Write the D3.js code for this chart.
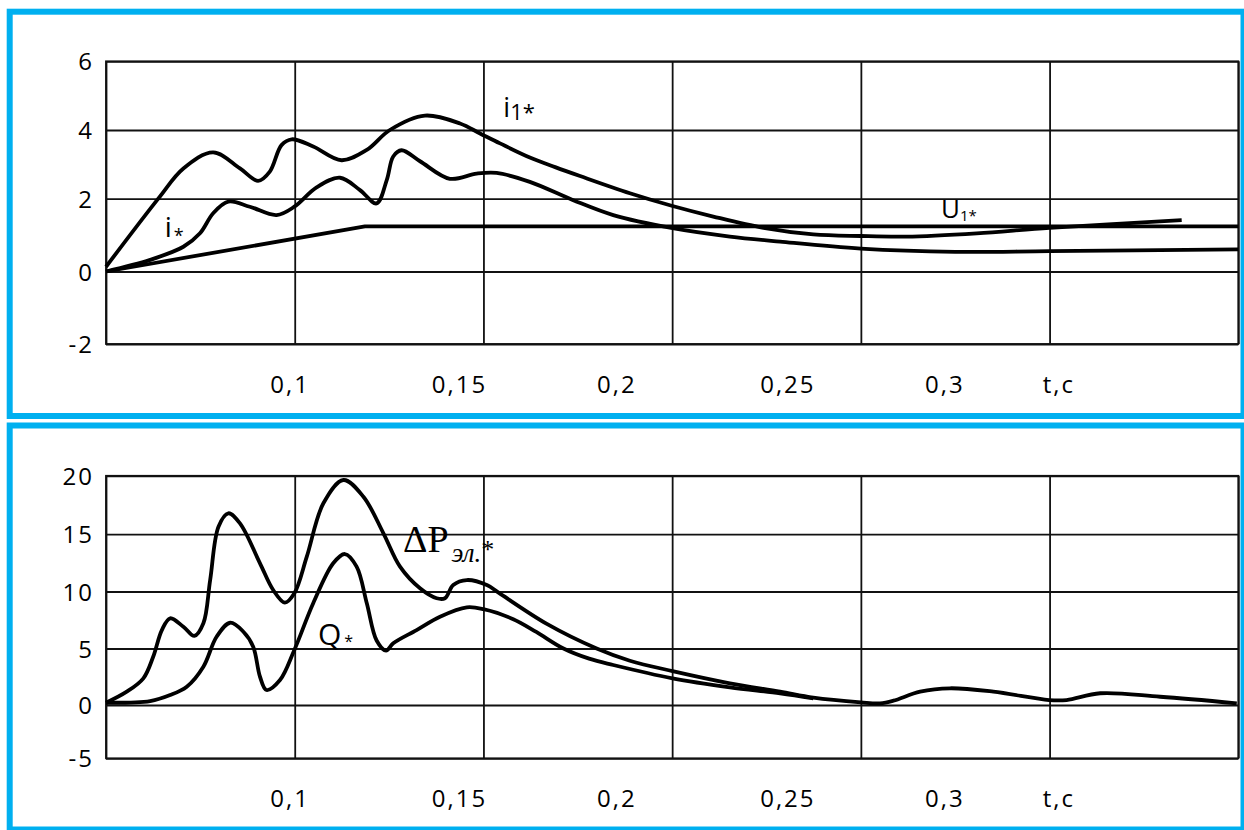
<!DOCTYPE html>
<html>
<head>
<meta charset="utf-8">
<script src="https://cdn.jsdelivr.net/npm/d3@7"></script>
<style>
  html, body { margin: 0; padding: 0; background: #fff; }
  svg { display: block; }
</style>
</head>
<body>
<svg id="chart" width="1244" height="830"></svg>
<script>
// ---- time axis (seconds) ----
const tDomain = [0.05, 0.35];
const tGrid = [0.05, 0.1, 0.15, 0.2, 0.25, 0.3, 0.35];
const tLabels = ["0,1", "0,15", "0,2", "0,25", "0,3", "t,c"];
const tLabelAt = [0.0985, 0.1434, 0.1851, 0.2304, 0.2720, 0.3022];

// ---- upper panel: currents and voltage (p.u.) ----
const currentTicks = [-2, 0, 2, 4, 6];

const i1Star = [
  [0.0500, 0.13], [0.0639, 2.01], [0.0705, 2.88], [0.0784, 3.35], [0.0855, 2.88],
  [0.0903, 2.52], [0.0934, 2.79], [0.0965, 3.56], [0.0992, 3.73], [0.1049, 3.52],
  [0.1124, 3.12], [0.1191, 3.42], [0.1252, 4.00], [0.1345, 4.42], [0.1438, 4.19],
  [0.1491, 3.90], [0.1544, 3.61], [0.1623, 3.20], [0.1690, 2.92], [0.1756, 2.66],
  [0.1888, 2.16], [0.2001, 1.80], [0.2109, 1.51], [0.2242, 1.20], [0.2374, 1.02],
  [0.2500, 0.975], [0.2620, 0.96], [0.2807, 1.05], [0.3000, 1.20], [0.3350, 1.41]
];

const iStar = [
  [0.0500, 0.00], [0.0617, 0.32], [0.0705, 0.68], [0.0749, 1.05], [0.0784, 1.60],
  [0.0824, 1.92], [0.0881, 1.78], [0.0952, 1.55], [0.0999, 1.78], [0.1058, 2.33],
  [0.1120, 2.61], [0.1173, 2.25], [0.1217, 1.87], [0.1244, 2.55], [0.1261, 3.23],
  [0.1283, 3.41], [0.1332, 3.09], [0.1411, 2.58], [0.1482, 2.73], [0.1535, 2.75],
  [0.1623, 2.49], [0.1738, 1.96], [0.1844, 1.55], [0.2001, 1.19], [0.2153, 0.96],
  [0.2286, 0.82], [0.2500, 0.63], [0.2750, 0.54], [0.3000, 0.56], [0.3500, 0.61]
];

const u1Star = [[0.0500, 0.00], [0.1186, 1.24], [0.3500, 1.24]];

// ---- lower panel: losses and reactive power (p.u.) ----
const powerTicks = [-5, 0, 5, 10, 15, 20];

const dPel = [
  [0.0500, 0.20], [0.0555, 1.18], [0.0599, 2.36], [0.0625, 4.27], [0.0648, 6.62],
  [0.0670, 7.65], [0.0705, 6.91], [0.0734, 6.10], [0.0758, 7.21], [0.0776, 11.0],
  [0.0798, 15.64], [0.0824, 16.79], [0.0855, 15.93], [0.0908, 12.46], [0.0943, 10.13],
  [0.0974, 9.02], [0.0999, 9.84], [0.1032, 13.04], [0.1076, 17.65], [0.1129, 19.64],
  [0.1182, 18.21], [0.1235, 15.08], [0.1279, 12.17], [0.1332, 10.28], [0.1376, 9.41],
  [0.1398, 9.41], [0.1420, 10.57], [0.1456, 11.0], [0.1509, 10.57], [0.1540, 9.90],
  [0.1668, 7.16], [0.1800, 5.00], [0.1888, 3.92], [0.2001, 3.00], [0.2153, 1.92],
  [0.2286, 1.18], [0.2374, 0.65], [0.2500, 0.24], [0.2551, 0.15], [0.2586, 0.38],
  [0.2657, 1.18], [0.2736, 1.48], [0.2851, 1.18], [0.2999, 0.44], [0.3045, 0.44],
  [0.3134, 1.04], [0.3293, 0.73], [0.3496, 0.15]
];

const qStar = [
  [0.0500, 0.20], [0.0617, 0.35], [0.0670, 0.88], [0.0714, 1.62], [0.0758, 3.39],
  [0.0793, 6.03], [0.0829, 7.26], [0.0864, 6.47], [0.0890, 5.16], [0.0908, 2.50],
  [0.0925, 1.33], [0.0961, 2.21], [0.0999, 4.87], [0.1049, 8.97], [0.1102, 12.46],
  [0.1133, 13.27], [0.1164, 12.17], [0.1191, 8.97], [0.1217, 5.70], [0.1242, 4.81],
  [0.1261, 5.46], [0.1323, 6.62], [0.1385, 7.79], [0.1456, 8.61], [0.1500, 8.45],
  [0.1579, 7.57], [0.1640, 6.45], [0.1712, 5.00], [0.1780, 4.10], [0.1844, 3.54],
  [0.2001, 2.36], [0.2153, 1.57], [0.2286, 1.04], [0.2374, 0.59]
];

// ---- drawing ----
const svg = d3.select("#chart");
const FRAME_BLUE = "#00b0f0";
const GRID = "#111";
const SANS = "'Open Sans', 'Noto Sans', sans-serif";
const SERIF = "'Liberation Serif', 'DejaVu Serif', serif";
const TICK_FONT = 24;
const TICK_SPACING = 2;

svg.append("rect").attr("width", 1244).attr("height", 830).attr("fill", "#fff");

const x = d3.scaleLinear().domain(tDomain).range([106, 1238.3]);

function drawPanel(opts) {
  const g = svg.append("g");
  const y = d3.scaleLinear().domain(opts.ticks).range(opts.yRange);
  const yTop = y(opts.ticks[opts.ticks.length - 1]);
  const yBot = y(opts.ticks[0]);
  const plotW = x.range()[1] - x.range()[0];

  // horizontal grid + value labels
  const yAxis = g.append("g")
    .attr("transform", `translate(${x.range()[0]},0)`)
    .call(d3.axisLeft(y).tickValues(opts.ticks).tickSize(-plotW).tickPadding(12)
      .tickFormat(d => String(d)));
  // vertical grid
  const xAxis = g.append("g")
    .attr("transform", `translate(0,${yBot})`)
    .call(d3.axisBottom(x).tickValues(tGrid).tickSize(-(yBot - yTop)).tickFormat(""));

  [yAxis, xAxis].forEach(a => {
    a.select(".domain").remove();
    a.selectAll(".tick line").attr("stroke", GRID).attr("stroke-width", 1.8);
  });
  yAxis.selectAll(".tick text")
    .attr("fill", "#000").attr("font-family", SANS).attr("font-size", TICK_FONT)
    .attr("letter-spacing", TICK_SPACING)
    .attr("dy", "0.36em");

  // plot frame
  g.append("rect")
    .attr("x", x.range()[0]).attr("y", yTop)
    .attr("width", plotW).attr("height", yBot - yTop)
    .attr("fill", "none").attr("stroke", GRID).attr("stroke-width", 1.8);

  // time labels under the grid
  g.append("g").selectAll("text").data(tLabels).join("text")
    .attr("x", (d, i) => x(tLabelAt[i]) + TICK_SPACING / 2)
    .attr("y", yBot + 49)
    .attr("text-anchor", "middle")
    .attr("font-family", SANS).attr("font-size", TICK_FONT).attr("fill", "#000")
    .attr("letter-spacing", TICK_SPACING)
    .text(d => d);

  // series
  const smooth = d3.line().x(d => x(d[0])).y(d => y(d[1])).curve(d3.curveCatmullRom.alpha(0.5));
  const straight = d3.line().x(d => x(d[0])).y(d => y(d[1]));
  opts.series.forEach(s => {
    g.append("path")
      .attr("d", (s.straight ? straight : smooth)(s.data))
      .attr("fill", "none").attr("stroke", "#000")
      .attr("stroke-width", 3.8).attr("stroke-linejoin", "round");
  });

  // outer blue frame
  svg.append("rect")
    .attr("x", opts.frame[0]).attr("y", opts.frame[1])
    .attr("width", opts.frame[2]).attr("height", opts.frame[3])
    .attr("fill", "none").attr("stroke", FRAME_BLUE).attr("stroke-width", 6);
  return g;
}

const currentPanel = drawPanel({
  ticks: currentTicks,
  yRange: [344, 271.5, 198.7, 130, 61.3],
  frame: [9.7, 11.7, 1233.8, 404.3],
  series: [
    { data: i1Star },
    { data: iStar },
    { data: u1Star, straight: true }
  ]
});

const powerPanel = drawPanel({
  ticks: powerTicks,
  yRange: [758.3, 705, 648.5, 591.5, 534.2, 475.8],
  frame: [9.7, 425.5, 1233.8, 404],
  series: [
    { data: dPel },
    { data: qStar }
  ]
});

// curve names
function label(g, xPos, yPos, parts, family) {
  const t = g.append("text").attr("x", xPos).attr("y", yPos)
    .attr("font-family", family || SANS).attr("fill", "#000");
  parts.forEach(p => {
    const s = t.append("tspan").text(p.text).attr("font-size", p.size);
    if (p.dx) s.attr("dx", p.dx);
    if (p.dy) s.attr("dy", p.dy);
    if (p.italic) s.attr("font-style", "italic");
  });
}

label(currentPanel, 503.3, 117, [{ text: "i", size: 27 }, { text: "1*", size: 22, dy: 2.5 }]);
label(currentPanel, 164.7, 236.7, [{ text: "i", size: 28 }, { text: "*", size: 18, dx: 2, dy: 5 }]);
label(currentPanel, 941, 218.3, [{ text: "U", size: 26 }, { text: "1*", size: 15, dy: 2.5 }]);

label(powerPanel, 318, 645, [{ text: "Q", size: 30 }, { text: "*", size: 16, dx: 3, dy: 2 }]);
label(powerPanel, 403, 551.7, [
  { text: "ΔP", size: 38 },
  { text: "эл.", size: 27, italic: true, dx: 3, dy: 10 },
  { text: "*", size: 26, dy: -4 }
], SERIF);
</script>
</body>
</html>
